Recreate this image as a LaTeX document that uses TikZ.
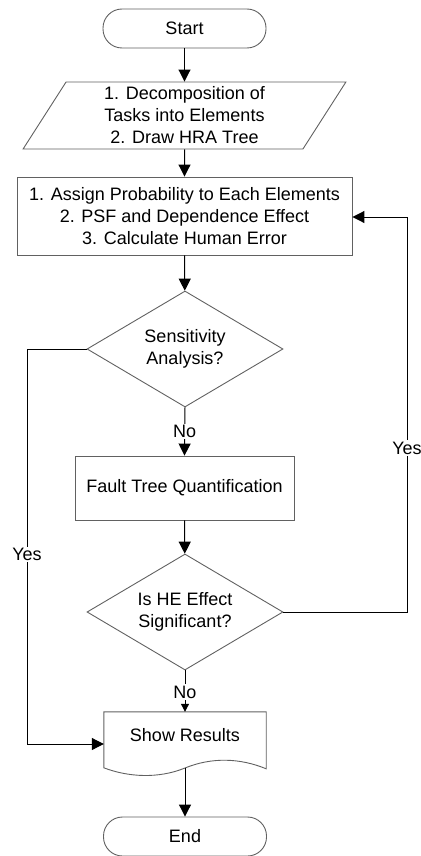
\documentclass[tikz,border=0pt]{standalone}
\usepackage{fontspec}
\setmainfont{Liberation Sans}
\usetikzlibrary{arrows.meta,shapes.geometric,calc}

\begin{document}
\begin{tikzpicture}[x=1pt,y=-1pt,
  every node/.style={font=\fontsize{18}{22}\selectfont, text=black, align=center, inner sep=0pt},
  shapeline/.style={draw=black!62, line width=0.9pt},
  terminal/.style={shapeline, rectangle, rounded corners=19pt, minimum width=163pt, minimum height=39pt},
  inout/.style={shapeline, trapezium, trapezium left angle=63, trapezium right angle=117,
    trapezium stretches=true, minimum width=323pt, minimum height=67pt},
  process/.style={shapeline, rectangle},
  decision/.style={shapeline, diamond, shape aspect=1.69, minimum width=196pt, minimum height=116pt},
  flow/.style={draw=black, line width=1pt, -{Triangle[length=12pt,width=12pt]}},
  smallflow/.style={draw=black, line width=1pt, -{Triangle[length=8pt,width=8pt]}},
  answer/.style={fill=white, inner sep=1.5pt}
]
\useasboundingbox (0,0) rectangle (420,856);

% shapes
\node[terminal] (start) at (184.5,28.5) {Start};
\node[inout] (decomp) at (184.5,115.5) {1. Decomposition of\\Tasks into Elements\\2. Draw HRA Tree};
\node[process, minimum width=335pt, minimum height=78pt] (assign) at (184.5,216)
  {1. Assign Probability to Each Elements\\2. PSF and Dependence Effect\\3. Calculate Human Error};
\node[decision] (sens) at (185,349) {Sensitivity\\Analysis?};
\node[process, minimum width=219pt, minimum height=64pt] (fault) at (184.5,488) {Fault Tree Quantification};
\node[decision] (sig) at (185,612) {Is HE Effect\\Significant?};

% document symbol for the results
\node[minimum width=162pt, minimum height=46pt] (show) at (185,735) {Show Results};
\coordinate (showbot) at (185,768);
\draw[shapeline] (show.north west) -- (show.north east) -- ++(0,57)
  .. controls (240,758) and (212,757) .. (showbot)
  .. controls (158,779) and (128,777) .. ($(show.north west)+(0,56)$) -- cycle;

\node[terminal] (end) at (185,836.5) {End};

% loop corners
\coordinate (yl) at (27,744);
\coordinate (yr) at (407,217);

% connectors
\draw[flow] (start) -- (decomp);
\draw[flow] (decomp) -- (assign);
\draw[flow] (assign) -- (sens);
\draw[flow] (sens.south) -- node[answer, pos=0.5] {No} (fault.north);
\draw[flow] (fault) -- (sig);
\draw[smallflow] (sig.south) -- node[answer, pos=0.52] {No} (show.north);
\draw[flow] (showbot) -- (end.north);

\draw[flow] (sens.west) -- (sens.west -| yl) -- node[answer, pos=0.52] {Yes} (yl) -- (show.west |- yl);
\draw[flow] (sig.east) -- (sig.east -| yr) -- node[answer, pos=0.415] {Yes} (yr) -- (assign.east |- yr);
\end{tikzpicture}
\end{document}
